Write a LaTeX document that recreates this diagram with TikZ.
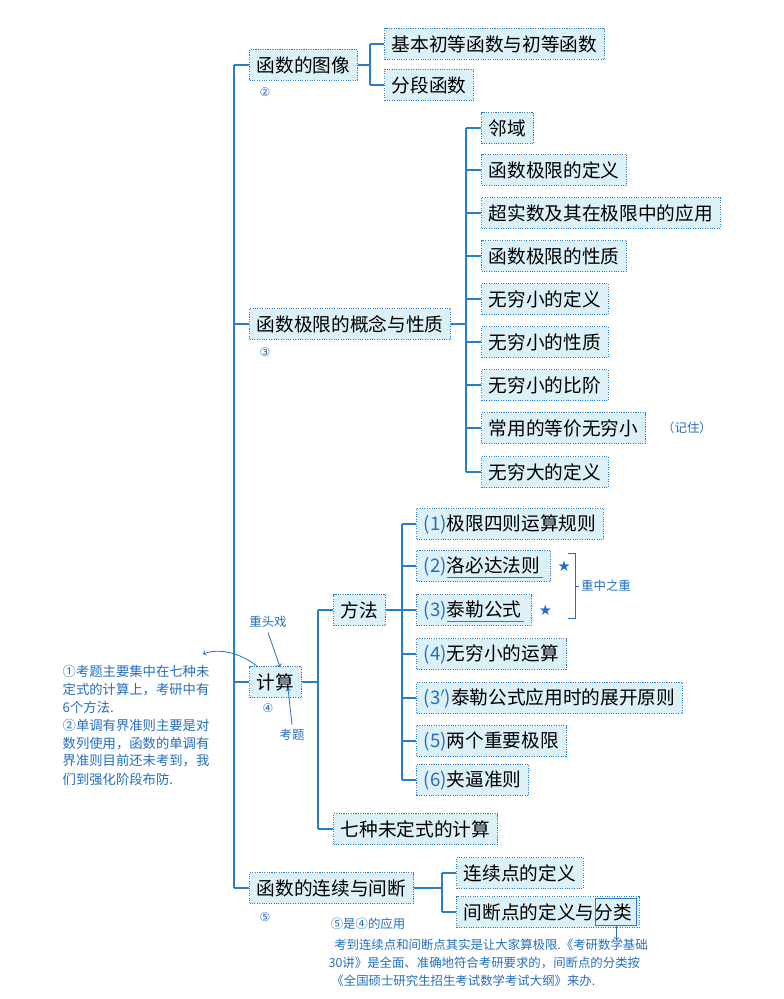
\documentclass[tikz,border=0pt]{standalone}
\usepackage{fontspec}
\usetikzlibrary{calc}
\setmainfont{Noto Sans CJK SC}
\newfontfamily\sym{DejaVu Sans}
\begin{document}
\definecolor{ln}{RGB}{40,125,205}
\definecolor{bx}{RGB}{220,240,248}
\definecolor{hw}{RGB}{35,110,190}
\begin{tikzpicture}[x=0.75pt,y=-0.75pt,
 box/.style={draw=ln,densely dotted,line width=0.8pt,fill=bx,anchor=west,minimum height=31*0.75pt,inner xsep=5.5pt,inner ysep=2pt,font=\fontsize{14pt}{16pt}\selectfont},
 l/.style={draw=ln,line width=0.9pt},
 hand/.style={text=hw,font=\fontsize{9.3pt}{13.5pt}\selectfont},
 circ/.style={text=hw,font=\sym\fontsize{9pt}{10pt}\selectfont}]
\useasboundingbox (0,0) rectangle (783,999);
% level 1
\node[box] (a) at (249,65) {函数的图像};
\node[box] (b) at (249,324) {函数极限的概念与性质};
\node[box] (c) at (249,682) {计算};
\node[box] (d) at (249,888) {函数的连续与间断};
\coordinate (t1) at (234,65); \coordinate (t2) at (234,888);
\draw[l] (t1) -- (t2);
\foreach \n in {a,b,c,d} \draw[l] (t1 |- \n.west) -- (\n.west);
\node[circ] at (265,92) {②};
\node[circ] at (265,352) {③};
\node[circ] at (268,708) {④};
\node[circ] at (265,917) {⑤};
% a children
\node[box] (a1) at (384,44) {基本初等函数与初等函数};
\node[box] (a2) at (384,85) {分段函数};
\coordinate (ta1) at (370,44); \coordinate (ta2) at (370,85);
\draw[l] (ta1)--(ta2); \draw[l] (a.east) -- (ta1 |- a.east);
\foreach \n in {a1,a2} \draw[l] (ta1 |- \n.west) -- (\n.west);
% b children
\node[box] (b1) at (481,128) {邻域};
\node[box] (b2) at (481,170) {函数极限的定义};
\node[box] (b3) at (481,213) {超实数及其在极限中的应用};
\node[box] (b4) at (481,256) {函数极限的性质};
\node[box] (b5) at (481,299) {无穷小的定义};
\node[box] (b6) at (481,342) {无穷小的性质};
\node[box] (b7) at (481,385) {无穷小的比阶};
\node[box] (b8) at (481,428) {常用的等价无穷小};
\node[box] (b9) at (481,472) {无穷大的定义};
\node[hand] (jz) at (687,428) {（记住）};
\coordinate (tb1) at (466,128); \coordinate (tb2) at (466,472);
\draw[l] (tb1)--(tb2); \draw[l] (b.east) -- (tb1 |- b.east);
\foreach \n in {b1,b2,b3,b4,b5,b6,b7,b8,b9} \draw[l] (tb1 |- \n.west) -- (\n.west);
% c children
\node[box] (c1) at (333,610) {方法};
\node[box] (c2) at (333,829) {七种未定式的计算};
\coordinate (tc1) at (318,610); \coordinate (tc2) at (318,829);
\draw[l] (tc1) -- (tc2); \draw[l] (c.east) -- (tc1 |- c.east);
\foreach \n in {c1,c2} \draw[l] (tc1 |- \n.west) -- (\n.west);
\node[box] (m1) at (416,524) {\textcolor{hw}{(1)}极限四则运算规则};
\node[box] (m2) at (416,566) {\textcolor{hw}{(2)}洛必达法则\,};
\node[box] (m3) at (416,610) {\textcolor{hw}{(3)}泰勒公式\,};
\node[box] (m4) at (416,654) {\textcolor{hw}{(4)}无穷小的运算};
\node[box] (m5) at (416,698) {\textcolor{hw}{(3$'$)}泰勒公式应用时的展开原则};
\node[box] (m6) at (416,741) {\textcolor{hw}{(5)}两个重要极限};
\node[box] (m7) at (416,780) {\textcolor{hw}{(6)}夹逼准则};
\coordinate (tm1) at (402,524); \coordinate (tm2) at (402,780);
\draw[l] (tm1)--(tm2); \draw[l] (c1.east) -- (tm1 |- c1.east);
\foreach \n in {m1,m2,m3,m4,m5,m6,m7} \draw[l] (tm1 |- \n.west) -- (\n.west);
\draw[ln,line width=0.6pt] ($(m2.west)+(31,11)$) -- ($(m2.east)+(-8,11)$);
\draw[ln,line width=0.6pt] ($(m3.west)+(31,11)$) -- ($(m3.east)+(-8,11)$);
\node[circ,font=\sym\fontsize{11pt}{12pt}\selectfont] (s1) at ($(m2.east)+(13,0)$) {★};
\node[circ,font=\sym\fontsize{11pt}{12pt}\selectfont] (s2) at ($(m3.east)+(13,0)$) {★};
\draw[hw,line width=0.6pt] (568,553) -- (575,553) -- (575,618) -- (568,618);
\draw[hw,line width=0.6pt] (575,586) -- (579,586);
\node[hand] (zz) at (606,586) {重中之重};
% d children
\node[box] (d1) at (456,873) {连续点的定义};
\node[box] (d2) at (456,912) {间断点的定义与分类};
\coordinate (td1) at (442,873); \coordinate (td2) at (442,912);
\draw[l] (td1)--(td2); \draw[l] (d.east) -- (td1 |- d.east);
\foreach \n in {d1,d2} \draw[l] (td1 |- \n.west) -- (\n.west);
\coordinate (fa) at ($(d2.east)+(-44,-14)$);
\coordinate (fb) at ($(d2.east)+(-3,13)$);
\draw[ln,line width=0.7pt] (fa) rectangle (fb);
\coordinate (fl) at ($(d2.east)+(-23,13)$);
\coordinate (fl2) at ($(d2.east)+(-23,28)$);
\draw[hw,line width=0.6pt,->] (fl) -- (fl2);
% annotations
\node[hand] (zy) at (368,924) {⑤是④的应用};
\node[hand,anchor=west,align=left] (note2) at (324,963) {\ \ 考到连续点和间断点其实是让大家算极限.《考研数学基础\\30讲》是全面、准确地符合考研要求的，间断点的分类按\\\ 《全国硕士研究生招生考试数学考试大纲》来办.};
\node[hand,font=\fontsize{10pt}{13.5pt}\selectfont,anchor=north west,align=left] (note1) at (58,660) {①考题主要集中在七种未\\定式的计算上，考研中有\\6个方法.\\②单调有界准则主要是对\\数列使用，函数的单调有\\界准则目前还未考到，我\\们到强化阶段布防.};
\node[hand] (zt) at (268,622) {重头戏};
\node[hand] (kt) at (292,735) {考题};
\draw[hw,line width=0.6pt,->] (zt.south) -- (280,667);
\draw[hw,line width=0.6pt,->] (kt.north) -- (288,688);
\draw[hw,line width=0.6pt,->] (258,667) .. controls (240,652) and (218,648) .. (203,654);
\end{tikzpicture}
\end{document}
